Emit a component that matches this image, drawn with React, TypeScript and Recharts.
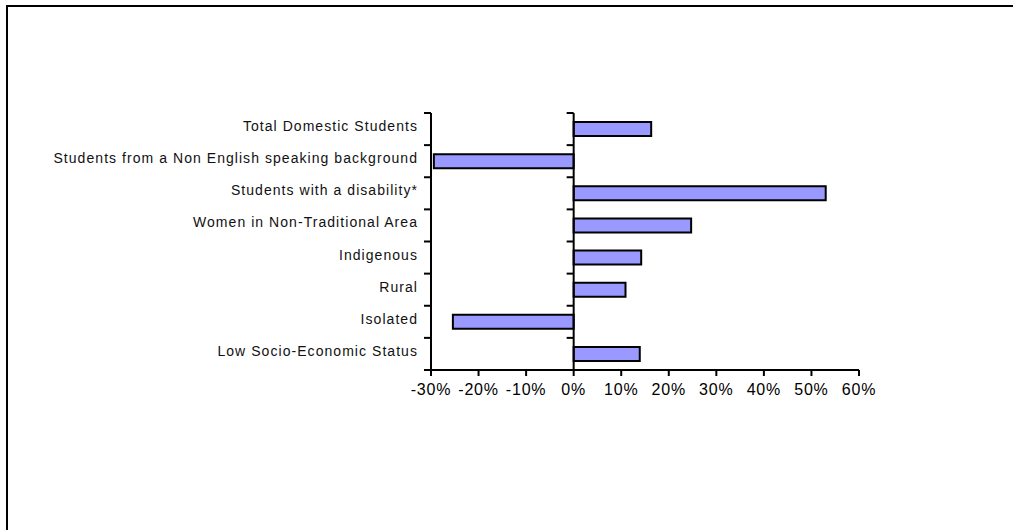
import React from "react";
import { BarChart, Bar, XAxis, YAxis, ReferenceLine } from "recharts";

// categories, top to bottom
const categories = [
  "Total Domestic Students",
  "Students from a Non English speaking background",
  "Students with a disability*",
  "Women in Non-Traditional Area",
  "Indigenous",
  "Rural",
  "Isolated",
  "Low Socio-Economic Status",
];

// percentage change
const changeValues = [16.3, -29.4, 53.0, 24.7, 14.2, 10.9, -25.4, 13.9];

const xTicks = [-30, -20, -10, 0, 10, 20, 30, 40, 50, 60];

const data = categories.map((name, i) => ({ name, value: changeValues[i] }));

const FONT = "'Liberation Sans', Arial, sans-serif";

// vertical line with Excel style ticks on the category boundaries
function BoundaryLine(props: any) {
  const { x1, y1, x2, y2 } = props;
  const n = categories.length;
  const step = (y2 - y1) / n;
  return (
    <g>
      <line x1={x1} y1={y1} x2={x2} y2={y2} stroke="#000" strokeWidth={2} />
      {Array.from({ length: n + 1 }).map((_, i) => (
        <line
          key={i}
          x1={x1 - 7}
          x2={x1}
          y1={y1 + step * i}
          y2={y1 + step * i}
          stroke="#000"
          strokeWidth={2}
        />
      ))}
    </g>
  );
}

function CategoryTick(props: any) {
  const { x, y, payload } = props;
  return (
    <text
      x={x}
      y={y + 2}
      textAnchor="end"
      fontSize={14}
      letterSpacing={1.05}
      fontFamily={FONT}
      fill="#111"
    >
      {payload.value}
    </text>
  );
}

function PercentTick(props: any) {
  const { x, y, payload } = props;
  return (
    <text
      x={x}
      y={y}
      dy="0.71em"
      textAnchor="middle"
      fontSize={16}
      letterSpacing={0.8}
      fontFamily={FONT}
      fill="#000"
    >
      {`${payload.value}%`}
    </text>
  );
}

export default function App() {
  return (
    <div
      style={{
        position: "absolute",
        top: 0,
        left: 0,
        width: 1013,
        height: 530,
        overflow: "hidden",
        background: "#fff",
      }}
    >
      <div
        style={{
          position: "absolute",
          left: 6,
          top: 5,
          width: 1100,
          height: 600,
          border: "2px solid #000",
        }}
      />
      <div style={{ position: "absolute", left: 0, top: 0 }}>
        <BarChart
          width={1013}
          height={530}
          data={data}
          layout="vertical"
          margin={{ top: 113, right: 154, bottom: 130, left: 0 }}
          barCategoryGap={0}
        >
          <XAxis
            type="number"
            domain={[-30, 60]}
            ticks={xTicks}
            interval={0}
            height={30}
            stroke="#000"
            axisLine={{ stroke: "#000", strokeWidth: 2 }}
            tickLine={{ stroke: "#000", strokeWidth: 2 }}
            tickSize={6}
            tickMargin={8}
            tick={<PercentTick />}
          />
          <YAxis
            type="category"
            dataKey="name"
            width={431}
            axisLine={false}
            tickLine={false}
            tickSize={0}
            tickMargin={13}
            interval={0}
            tick={<CategoryTick />}
          />
          <Bar
            dataKey="value"
            barSize={14}
            fill="#9999FF"
            stroke="#000"
            strokeWidth={2}
            isAnimationActive={false}
          />
          <ReferenceLine x={-30} shape={<BoundaryLine />} ifOverflow="extendDomain" />
          <ReferenceLine x={0} shape={<BoundaryLine />} />
        </BarChart>
      </div>
    </div>
  );
}
